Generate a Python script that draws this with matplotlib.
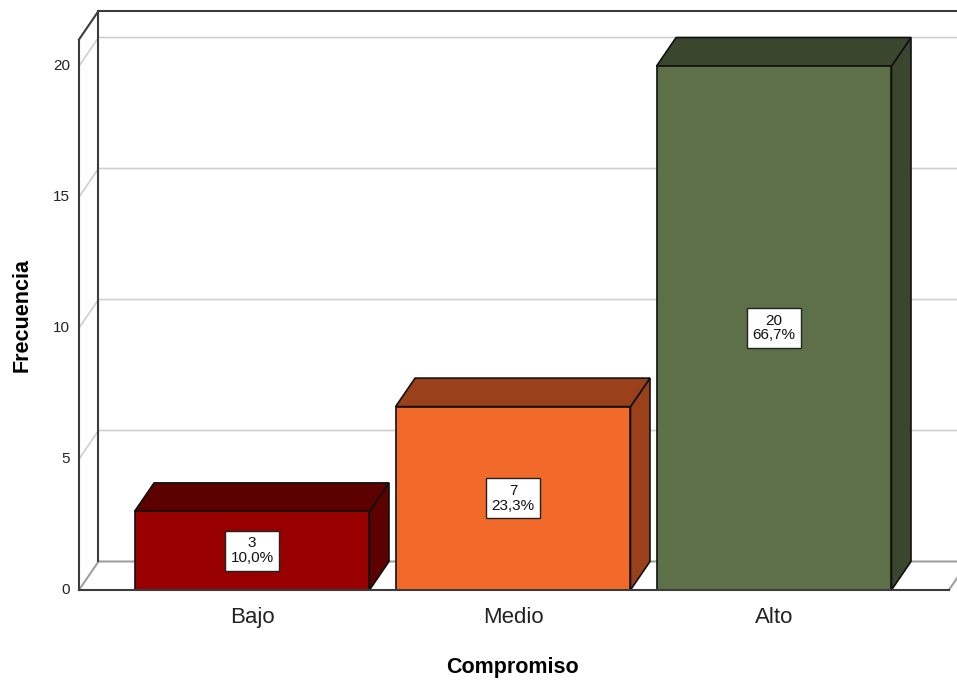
import numpy as np
import matplotlib.pyplot as plt
from matplotlib.patches import Polygon

plt.rcParams['font.family'] = ['Liberation Sans', 'DejaVu Sans']

categorias = ['Bajo', 'Medio', 'Alto']
frecuencias = [3, 7, 20]
caras = ['#990000', '#f26a2a', '#5d7048']
sombras = ['#5c0000', '#9a401b', '#3a462e']
ticks_y = [0, 5, 10, 15, 20]

total = sum(frecuencias)

# geometry of the pseudo-3D box (data units)
ancho = 0.9
dx, dy = 0.0747, 1.088
x0 = -0.663          # front edge of the left wall
xmax = 2.701         # right border of the axes
xpiso = 2.670        # front right corner of the floor
ytop = 22.1          # top of the back wall

fig = plt.figure(figsize=(9.57, 6.81), dpi=100)
ax = fig.add_axes([79 / 957, 1 - 590 / 681, 1 - 79 / 957, (590 - 11) / 681])
ax.set_xlim(x0, xmax)
ax.set_ylim(0, ytop)
ax.axis('off')

oscuro = '#3c3c3c'
gris = '#a0a0a0'
grid = '#cfcfcf'

# gridlines on the left and back walls
for v in ticks_y[1:]:
    ax.plot([x0, x0 + dx, xmax], [v, v + dy, v + dy], color=grid, lw=1.2, zorder=1, clip_on=False)
for v in ticks_y:
    ax.text(x0 - 0.035, v, str(v), ha='right', va='center', fontsize=11, color='#222222')

# floor
ax.plot([x0, x0 + dx, xmax], [0, dy, dy], color=gris, lw=1.5, zorder=1, clip_on=False)
ax.plot([xpiso, xpiso + dx], [0, dy], color=gris, lw=1.5, zorder=1, clip_on=False)
ax.plot([x0, xpiso], [0, 0], color=oscuro, lw=1.5, zorder=5, clip_on=False)

# wall edges
ax.plot([x0, x0], [0, ytop - dy], color=oscuro, lw=1.5, zorder=2, clip_on=False)
ax.plot([x0, x0 + dx, xmax], [ytop - dy, ytop, ytop], color=oscuro, lw=1.5, zorder=2, clip_on=False)
ax.plot([x0 + dx, x0 + dx], [dy, ytop], color=oscuro, lw=1.5, zorder=2, clip_on=False)

# bars
for i, (cat, val) in enumerate(zip(categorias, frecuencias)):
    xl, xr = i - ancho / 2, i + ancho / 2
    frente = Polygon([(xl, 0), (xr, 0), (xr, val), (xl, val)], closed=True,
                     facecolor=caras[i], edgecolor='#111111', lw=1.2, zorder=3)
    techo = Polygon([(xl, val), (xr, val), (xr + dx, val + dy), (xl + dx, val + dy)], closed=True,
                    facecolor=sombras[i], edgecolor='#111111', lw=1.2, zorder=3)
    lado = Polygon([(xr, 0), (xr + dx, dy), (xr + dx, val + dy), (xr, val)], closed=True,
                   facecolor=sombras[i], edgecolor='#111111', lw=1.2, zorder=3)
    for p in (lado, techo, frente):
        ax.add_patch(p)
    pct = f'{val / total * 100:.1f}%'.replace('.', ',')
    ax.text(i, val / 2, f'{val}\n{pct}', ha='center', va='center', fontsize=11,
            linespacing=1.05, zorder=6, color='#111111',
            bbox=dict(boxstyle='square,pad=0.38', facecolor='white', edgecolor='#222222', lw=1))
    ax.text(i, -0.65, cat, ha='center', va='top', fontsize=16, color='#222222')

fig.text(512 / 957, 1 - 667 / 681, 'Compromiso', ha='center', va='center',
         fontsize=15.5, fontweight='bold')
fig.text(22 / 957, 1 - 315 / 681, 'Frecuencia', ha='center', va='center',
         fontsize=15.5, fontweight='bold', rotation=90)

fig.savefig('out.png', dpi=100)
